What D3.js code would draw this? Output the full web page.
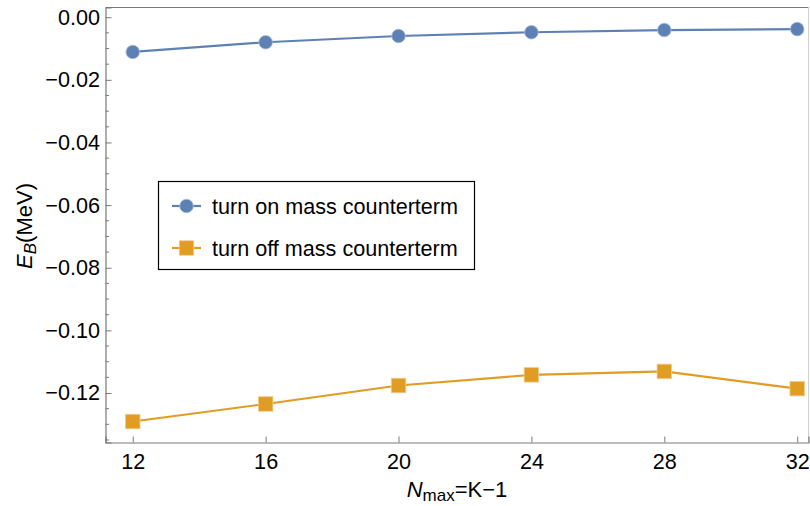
<!DOCTYPE html>
<html>
<head>
<meta charset="utf-8">
<script src="https://cdn.jsdelivr.net/npm/d3@7"></script>
<style>
  html, body { margin: 0; padding: 0; background: #fff; }
  svg { display: block; font-family: "Liberation Sans", Arial, sans-serif; }
</style>
</head>
<body>
<svg id="chart" width="810" height="506"></svg>
<script>
// ---- data ----
const nmax = [12, 16, 20, 24, 28, 32];
const turnOn = [-0.0111, -0.0080, -0.0060, -0.0048, -0.0041, -0.0038];
const turnOff = [-0.1291, -0.1235, -0.1176, -0.1142, -0.1131, -0.1186];
const seriesNames = ["turn on mass counterterm", "turn off mass counterterm"];
const xTicks = [12, 16, 20, 24, 28, 32];
const yTicks = [0, -0.02, -0.04, -0.06, -0.08, -0.10, -0.12];
const yMinorTicks = d3.range(-0.135, 0.0026, 0.005);

// ---- layout ----
const plotL = 105.5, plotR = 808.5, plotT = 7.5, plotB = 442.5;
const blue = "#5E81B5", orange = "#E19C24";
const frameColor = "#7a7a7a";
const fontSize = 21.6;

const svg = d3.select("#chart");

const x = d3.scaleLinear().domain([11.18, 32.34]).range([plotL, plotR]);
const y = d3.scaleLinear().domain([-0.1358, 0.0031]).range([plotB, plotT]);

// frame
svg.append("line").attr("x1", plotL).attr("x2", plotR).attr("y1", plotT).attr("y2", plotT)
  .attr("stroke", frameColor).attr("stroke-width", 1.2);
svg.append("line").attr("x1", plotR).attr("x2", plotR).attr("y1", plotT).attr("y2", plotB)
  .attr("stroke", "#d0d0d0").attr("stroke-width", 1);

// y axis (ticks inward)
const yAxis = d3.axisLeft(y).tickValues(yTicks).tickSize(-6).tickPadding(5.5)
  .tickFormat(d => { const s = Math.abs(d).toFixed(2); return d < 0 ? "\u2212" + s : s; });
const gy = svg.append("g").attr("transform", `translate(${plotL},0)`).call(yAxis);
gy.select(".domain").attr("stroke", frameColor).attr("stroke-width", 1.2);
gy.selectAll(".tick line").attr("stroke", frameColor).attr("stroke-width", 1);
gy.selectAll(".tick text").attr("font-size", fontSize).attr("fill", "#000")
  .attr("font-family", "'Liberation Sans', Arial, sans-serif");
// minor ticks
svg.append("g").selectAll("line")
  .data(yMinorTicks.filter(v => !yTicks.some(t => Math.abs(t - v) < 1e-6)))
  .join("line")
  .attr("x1", plotL).attr("x2", plotL + 3.5)
  .attr("y1", d => y(d)).attr("y2", d => y(d))
  .attr("stroke", frameColor).attr("stroke-width", 1);

// x axis
const xAxis = d3.axisBottom(x).tickValues(xTicks).tickSize(-6).tickPadding(11);
const gx = svg.append("g").attr("transform", `translate(0,${plotB})`).call(xAxis);
gx.select(".domain").attr("stroke", frameColor).attr("stroke-width", 1.2);
gx.selectAll(".tick line").attr("stroke", frameColor).attr("stroke-width", 1);
gx.selectAll(".tick text").attr("font-size", fontSize).attr("fill", "#000")
  .attr("font-family", "'Liberation Sans', Arial, sans-serif");

// axis labels
const xl = svg.append("text").attr("x", (plotL + plotR) / 2).attr("y", 497)
  .attr("text-anchor", "middle").attr("font-size", 22).attr("fill", "#000");
xl.append("tspan").attr("font-style", "italic").text("N");
xl.append("tspan").attr("font-size", 17).attr("dy", 3.5).text("max");
xl.append("tspan").attr("dy", -3.5).text("=K\u22121");

const yl = svg.append("text").attr("transform", "translate(32,226) rotate(-90)")
  .attr("text-anchor", "middle").attr("font-size", 22).attr("fill", "#000");
yl.append("tspan").attr("font-style", "italic").text("E");
yl.append("tspan").attr("font-style", "italic").attr("font-size", 17).attr("dy", 4).text("B");
yl.append("tspan").attr("dy", -4).text("(MeV)");

// lines
const line = d3.line().x(d => x(d[0])).y(d => y(d[1]));
const onData = nmax.map((n, i) => [n, turnOn[i]]);
const offData = nmax.map((n, i) => [n, turnOff[i]]);

svg.append("path").datum(onData).attr("d", line).attr("fill", "none")
  .attr("stroke", blue).attr("stroke-width", 2.2);
svg.append("path").datum(offData).attr("d", line).attr("fill", "none")
  .attr("stroke", orange).attr("stroke-width", 2.2);

// markers
svg.append("g").selectAll("circle").data(onData).join("circle")
  .attr("cx", d => x(d[0])).attr("cy", d => y(d[1])).attr("r", 6.8)
  .attr("fill", blue).attr("stroke", "#a9bcd9").attr("stroke-width", 0.8);
const sq = 14.5;
svg.append("g").selectAll("rect").data(offData).join("rect")
  .attr("x", d => x(d[0]) - sq / 2).attr("y", d => y(d[1]) - sq / 2)
  .attr("width", sq).attr("height", sq)
  .attr("fill", orange).attr("stroke", "#f0cc8c").attr("stroke-width", 0.8);

// legend
const lg = svg.append("g");
lg.append("rect").attr("x", 158.5).attr("y", 181.5).attr("width", 316).attr("height", 88)
  .attr("fill", "#fff").attr("stroke", "#000").attr("stroke-width", 1.2);
const rows = [
  { name: seriesNames[0], color: blue, shape: "circle", y: 206 },
  { name: seriesNames[1], color: orange, shape: "square", y: 248 }
];
rows.forEach(r => {
  lg.append("line").attr("x1", 172).attr("x2", 201).attr("y1", r.y).attr("y2", r.y)
    .attr("stroke", r.color).attr("stroke-width", 2.2);
  if (r.shape === "circle") {
    lg.append("circle").attr("cx", 186.5).attr("cy", r.y).attr("r", 6.8)
      .attr("fill", r.color).attr("stroke", "#a9bcd9").attr("stroke-width", 0.8);
  } else {
    lg.append("rect").attr("x", 186.5 - sq / 2).attr("y", r.y - sq / 2)
      .attr("width", sq).attr("height", sq)
      .attr("fill", r.color).attr("stroke", "#f0cc8c").attr("stroke-width", 0.8);
  }
  lg.append("text").attr("x", 212).attr("y", r.y).attr("dy", "0.35em")
    .attr("font-size", fontSize).attr("fill", "#000").text(r.name);
});
</script>
</body>
</html>
